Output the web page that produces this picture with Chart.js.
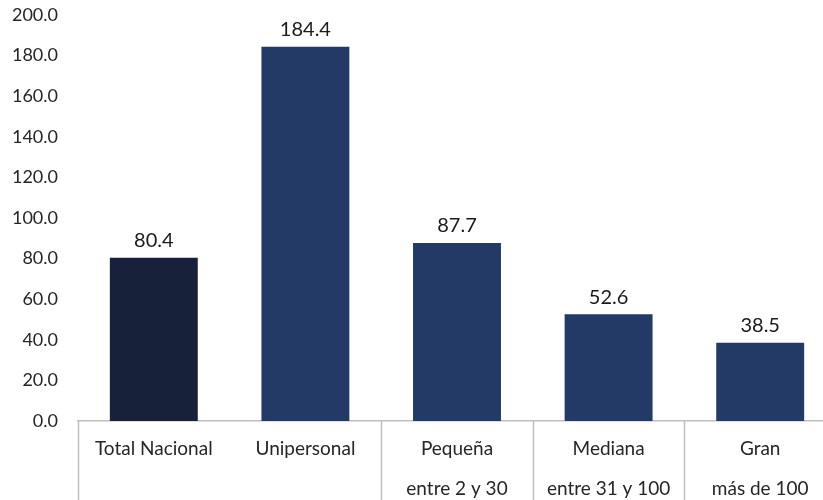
<!DOCTYPE html>
<html>
<head>
<meta charset="utf-8">
<script src="https://cdn.jsdelivr.net/npm/chart.js@4.4.1/dist/chart.umd.min.js"></script>
<style>
  html, body { margin: 0; padding: 0; overflow: hidden; background: #fff; }
  #wrap { position: relative; width: 836px; height: 500px; }
</style>
</head>
<body>
<div id="wrap"><canvas id="grafico"></canvas></div>
<script>
// valores
const categorias = [
  ['Total Nacional'],
  ['Unipersonal'],
  ['Pequeña', 'entre 2 y 30'],
  ['Mediana', 'entre 31 y 100'],
  ['Gran', 'más de 100']
];
const valores = [80.4, 184.4, 87.7, 52.6, 38.5];
const colores = ['#172139', '#223a65', '#223a65', '#223a65', '#223a65'];
// separadores del eje x (indice de la categoria a cuya izquierda va la linea)
const separadores = [0, 2, 3, 4];

const fuente = 'Lato, "Open Sans", sans-serif';

// etiquetas encima de las barras
const etiquetas = {
  id: 'etiquetas',
  afterDatasetsDraw(chart) {
    const ctx = chart.ctx;
    const meta = chart.getDatasetMeta(0);
    ctx.save();
    ctx.font = '20px ' + fuente;
    ctx.fillStyle = '#1a1a1a';
    ctx.textAlign = 'center';
    ctx.textBaseline = 'bottom';
    meta.data.forEach((bar, i) => {
      ctx.fillText(valores[i].toFixed(1), bar.x, bar.y - 7);
    });
    ctx.restore();
  }
};

// lineas verticales que agrupan las categorias bajo el eje
const lineasEje = {
  id: 'lineasEje',
  afterDraw(chart) {
    const ctx = chart.ctx;
    const x = chart.scales.x;
    const paso = x.getPixelForValue(1) - x.getPixelForValue(0);
    ctx.save();
    ctx.strokeStyle = '#bfbfbf';
    ctx.lineWidth = 1.5;
    separadores.forEach(i => {
      const px = Math.round(x.getPixelForValue(i) - paso / 2) + 0.5;
      ctx.beginPath();
      ctx.moveTo(px, x.top);
      ctx.lineTo(px, chart.height);
      ctx.stroke();
    });
    ctx.restore();
  }
};

CrearGrafico('grafico');

function CrearGrafico(canva) {
  let ctx = document.getElementById(canva);

  new Chart(ctx, {
    type: 'bar',
    data: {
      labels: categorias,
      datasets: [{
        data: valores,
        backgroundColor: colores,
        categoryPercentage: 1,
        barPercentage: 0.58
      }]
    },
    options: {
      responsive: true,
      maintainAspectRatio: false,
      animation: false,
      layout: { padding: { top: 15, left: 0, right: 0, bottom: 0 } },
      plugins: {
        legend: { display: false },
        tooltip: { enabled: false }
      },
      scales: {
        x: {
          grid: { display: false, drawTicks: false },
          border: { display: true, color: '#bfbfbf', width: 1.5 },
          ticks: {
            color: '#262626',
            padding: 8,
            maxRotation: 0,
            autoSkip: false,
            font: { family: fuente, size: 19, lineHeight: 2.1 }
          },
          afterFit: (s) => {
            s.height = 79;
            s.paddingTop = 0; s.paddingBottom = 0;
            s.paddingLeft = 0; s.paddingRight = 0;
          }
        },
        y: {
          min: 0,
          max: 200,
          grid: { display: false, drawTicks: false },
          border: { display: false },
          ticks: {
            stepSize: 20,
            color: '#262626',
            padding: 20,
            font: { family: fuente, size: 18 },
            callback: (v) => Number(v).toFixed(1)
          },
          afterFit: (s) => {
            s.width = 78;
            s.paddingTop = 0; s.paddingBottom = 0;
          }
        }
      }
    },
    plugins: [etiquetas, lineasEje]
  });
}
</script>
</body>
</html>
